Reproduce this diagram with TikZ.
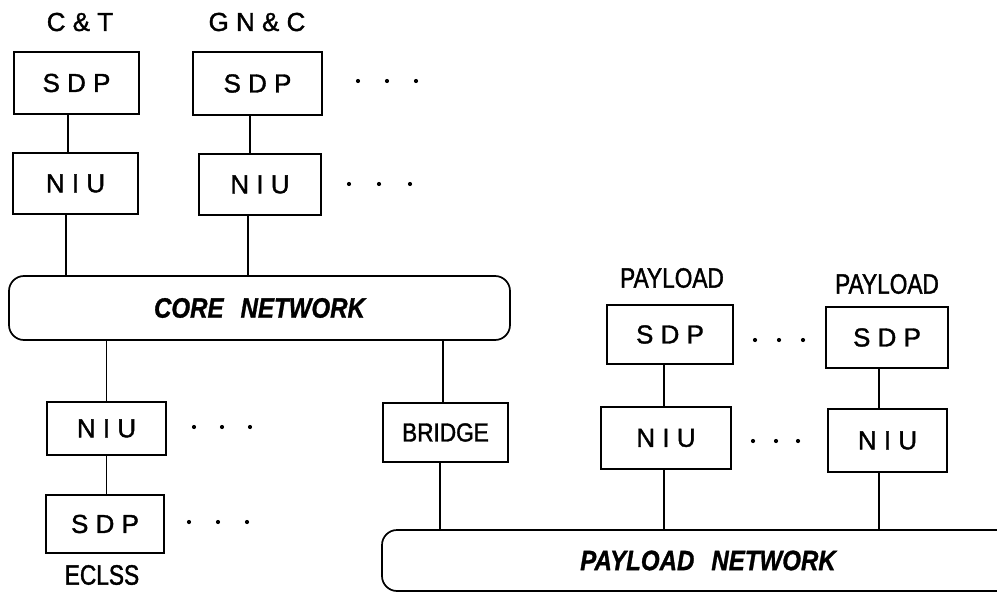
\documentclass[tikz,border=0pt]{standalone}
\usepackage{fontspec}
\newfontfamily\lblfont[FakeBold=1.4]{Liberation Sans}
\newfontfamily\narrowfont[FakeStretch=0.87,FakeBold=1.4]{Liberation Sans}
\newfontfamily\tallfont[FakeStretch=0.81,FakeBold=1.4]{Liberation Sans}
\newfontfamily\netfont[FakeStretch=0.86,FakeBold=1]{Liberation Sans}
\begin{document}
\begin{tikzpicture}[x=1pt,y=-1pt,
  unit/.style={draw, line width=1.7pt, inner sep=0pt,
    font=\lblfont\fontsize{26}{30}\selectfont},
  tag/.style={inner sep=0pt, font=\lblfont\fontsize{26}{30}\selectfont},
  narrowtag/.style={inner sep=0pt, font=\tallfont\fontsize{28}{32}\selectfont},
  bus/.style={draw, line width=1.7pt, rounded corners=15pt, inner sep=0pt,
    font=\netfont\bfseries\itshape\fontsize{28}{32}\selectfont},
  link/.style={line width=1.3pt},
  dot/.style={fill=black}]
\useasboundingbox (0,0) rectangle (997,597);
\clip (0,0) rectangle (997,597);

% subsystem names
\node[tag] (ct) at (80,22) {C \& T};
\node[tag] (gnc) at (257,22) {G N \& C};

% upper processors and their interface units
\node[unit, minimum width=125pt, minimum height=62pt] (sdp1) at (76.5,83) {S D P};
\node[unit, minimum width=129pt, minimum height=63pt] (sdp2) at (257.5,83.5) {S D P};
\node[unit, minimum width=125pt, minimum height=61pt] (niu1) at (75.5,183.5) {N I U};
\node[unit, minimum width=122pt, minimum height=61pt] (niu2) at (260,184.5) {N I U};

% core network
\node[bus, minimum width=501pt, minimum height=64pt] (core) at (259.5,308)
  {CORE\hspace{17pt}NETWORK};

% ECLSS branch
\node[unit, minimum width=119pt, minimum height=53pt] (niu3) at (106.5,428.5) {N I U};
\node[unit, minimum width=118pt, minimum height=58pt] (sdp3) at (105,524) {S D P};
\node[narrowtag] (eclss) at (102,575) {ECLSS};

% bridge between the networks
\node[unit, minimum width=125pt, minimum height=59pt,
  font=\narrowfont\fontsize{26}{30}\selectfont] (bridge) at (445.5,432.5) {BRIDGE};

% payload network
\node[bus, minimum width=652pt, minimum height=61pt] (paynet) at (708,560.5)
  {PAYLOAD\hspace{17pt}NETWORK};

% payload processors
\node[narrowtag] (pl1) at (672,278) {PAYLOAD};
\node[narrowtag] (pl2) at (887,284) {PAYLOAD};
\node[unit, minimum width=126pt, minimum height=59pt] (sdp4) at (670,334.5) {S D P};
\node[unit, minimum width=130pt, minimum height=62pt] (niu4) at (666,438) {N I U};
\node[unit, minimum width=122pt, minimum height=61pt] (sdp5) at (887,337.5) {S D P};
\node[unit, minimum width=119pt, minimum height=63pt] (niu5) at (887.5,440.5) {N I U};

% connections
\draw[link] ([xshift=-8.5pt]sdp1.south) -- ([xshift=-8.5pt]sdp1.south |- niu1.north);
\draw[link] ([xshift=-9.5pt]niu1.south) -- ([xshift=-9.5pt]niu1.south |- core.north);
\draw[link] ([xshift=-7.5pt]sdp2.south) -- ([xshift=-7.5pt]sdp2.south |- niu2.north);
\draw[link] ([xshift=-12pt]niu2.south) -- ([xshift=-12pt]niu2.south |- core.north);
\draw[link] (niu3.north) -- (niu3.north |- core.south);
\draw[link] (niu3.south) -- (niu3.south |- sdp3.north);
\draw[link] ([xshift=-2.5pt]bridge.north) -- ([xshift=-2.5pt]bridge.north |- core.south);
\draw[link] ([xshift=-5.5pt]bridge.south) -- ([xshift=-5.5pt]bridge.south |- paynet.north);
\draw[link] ([xshift=-6pt]sdp4.south) -- ([xshift=-6pt]sdp4.south |- niu4.north);
\draw[link] ([xshift=-2pt]niu4.south) -- ([xshift=-2pt]niu4.south |- paynet.north);
\draw[link] ([xshift=-8pt]sdp5.south) -- ([xshift=-8pt]sdp5.south |- niu5.north);
\draw[link] ([xshift=-8.5pt]niu5.south) -- ([xshift=-8.5pt]niu5.south |- paynet.north);

% ellipses marking further units
\foreach \x in {358,387,416} \fill[dot] (\x,81) circle (2.1);
\foreach \x in {349,379,410} \fill[dot] (\x,184) circle (2.1);
\foreach \x in {194,222,250} \fill[dot] (\x,427) circle (2.1);
\foreach \x in {189,218,247} \fill[dot] (\x,522) circle (2.1);
\foreach \x in {755,779,803} \fill[dot] (\x,340) circle (2.1);
\foreach \x in {753,776,798} \fill[dot] (\x,441) circle (2.1);
\end{tikzpicture}
\end{document}
